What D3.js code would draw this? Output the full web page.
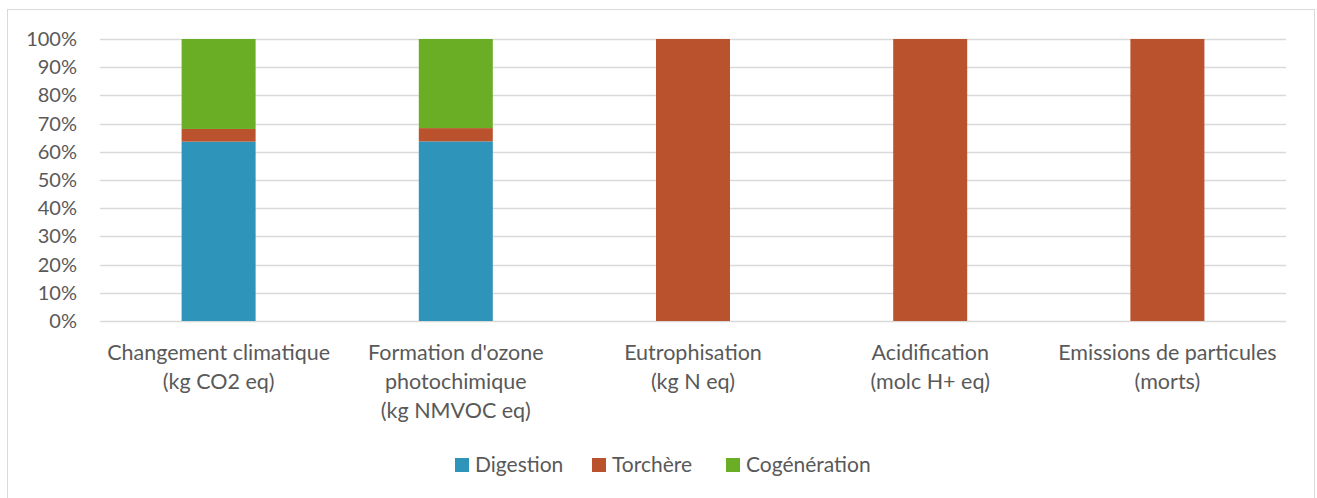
<!DOCTYPE html>
<html>
<head>
<meta charset="utf-8">
<script src="https://cdn.jsdelivr.net/npm/d3@7"></script>
<style>
  html, body { margin: 0; padding: 0; background: #fff; }
  svg { display: block; font-family: Lato, "Open Sans", sans-serif; }
</style>
</head>
<body>
<svg id="chart" width="1317" height="498"></svg>
<script>
// ---------- DATA ----------
const categories = [
  ["Changement climatique", "(kg CO2 eq)"],
  ["Formation d'ozone", "photochimique", "(kg NMVOC eq)"],
  ["Eutrophisation", "(kg N eq)"],
  ["Acidification", "(molc H+ eq)"],
  ["Emissions de particules", "(morts)"]
];
const seriesNames = ["Digestion", "Torchère", "Cogénération"];
const digestion    = [0.636, 0.637, 0, 0, 0];
const torchere     = [0.045, 0.047, 1, 1, 1];
const cogeneration = [0.319, 0.316, 0, 0, 0];
const yTicks = [0, 0.1, 0.2, 0.3, 0.4, 0.5, 0.6, 0.7, 0.8, 0.9, 1];
const colors = ["#2E94B9", "#BA522D", "#6AAE26"];

// ---------- LAYOUT ----------
const svg = d3.select("#chart");
const plot = { left: 100, right: 1286, top: 39, bottom: 321 };
const textColor = "#595959";
const gridColor = "#D9D9D9";

// outer chart border
svg.append("rect")
  .attr("x", 7.5).attr("y", 9.5)
  .attr("width", 1307).attr("height", 500)
  .attr("fill", "#fff").attr("stroke", gridColor).attr("stroke-width", 1);

const x = d3.scaleBand()
  .domain(d3.range(categories.length))
  .range([plot.left, plot.right])
  .paddingInner(0.688).paddingOuter(0.344);

const y = d3.scaleLinear().domain([0, 1]).range([plot.bottom, plot.top]);

// gridlines
svg.append("g")
  .selectAll("line")
  .data(yTicks)
  .join("line")
  .attr("x1", plot.left).attr("x2", plot.right)
  .attr("y1", d => Math.round(y(d)) + 0.5).attr("y2", d => Math.round(y(d)) + 0.5)
  .attr("stroke", gridColor).attr("stroke-width", 1.5);

// y axis labels
const yAxis = svg.append("g")
  .attr("transform", `translate(${plot.left},0)`)
  .call(d3.axisLeft(y).tickValues(yTicks).tickFormat(d3.format(".0%")).tickSize(0).tickPadding(23));
yAxis.select(".domain").remove();
yAxis.selectAll("text")
  .attr("fill", textColor)
  .style("font-size", "20px")
  .style("font-family", "Lato, 'Open Sans', sans-serif");

// stacked bars
const rows = categories.map((c, i) => ({
  i, Digestion: digestion[i], "Torchère": torchere[i], "Cogénération": cogeneration[i]
}));
const stack = d3.stack().keys(seriesNames)(rows);

svg.append("g")
  .selectAll("g")
  .data(stack)
  .join("g")
  .attr("fill", (d, k) => colors[k])
  .selectAll("rect")
  .data(d => d.filter(p => p[1] - p[0] > 0))
  .join("rect")
  .attr("x", d => x(d.data.i))
  .attr("width", x.bandwidth())
  .attr("y", d => y(d[1]))
  .attr("height", d => y(d[0]) - y(d[1]));

// category labels
const lineH = 29;
const catG = svg.append("g");
categories.forEach((lines, i) => {
  const t = catG.append("text")
    .attr("x", x(i) + x.bandwidth() / 2)
    .attr("y", 360)
    .attr("text-anchor", "middle")
    .attr("fill", textColor)
    .style("font-size", "21.5px");
  lines.forEach((ln, j) => {
    t.append("tspan")
      .attr("x", x(i) + x.bandwidth() / 2)
      .attr("dy", j === 0 ? 0 : lineH)
      .text(ln);
  });
});

// legend
const legendX = [455, 592, 726];
const legend = svg.append("g");
seriesNames.forEach((name, k) => {
  legend.append("rect")
    .attr("x", legendX[k]).attr("y", 458)
    .attr("width", 14).attr("height", 14)
    .attr("fill", colors[k]);
  legend.append("text")
    .attr("x", legendX[k] + 20).attr("y", 472)
    .attr("fill", textColor)
    .style("font-size", "21px")
    .text(name);
});
</script>
</body>
</html>
